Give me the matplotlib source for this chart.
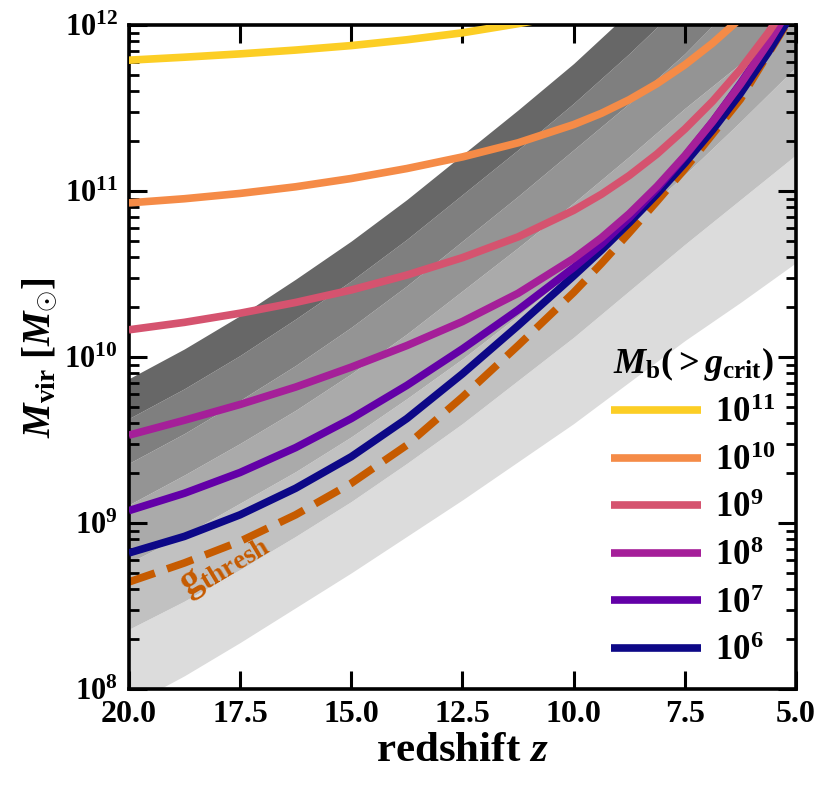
import numpy as np
import matplotlib
matplotlib.use('Agg')
import matplotlib.pyplot as plt
from matplotlib.ticker import NullLocator, FixedLocator

plt.rcParams['font.family'] = ['Liberation Serif', 'DejaVu Serif']
plt.rcParams['font.weight'] = 'bold'
plt.rcParams['mathtext.fontset'] = 'custom'
plt.rcParams['mathtext.rm'] = 'Liberation Serif:bold'
plt.rcParams['mathtext.it'] = 'Liberation Serif:italic:bold'
plt.rcParams['mathtext.bf'] = 'Liberation Serif:bold'

# redshift grid for the grey band edges
z_band = [20.0, 18.75, 17.5, 16.25, 15.0, 13.75, 12.5, 11.25, 10.0, 8.75, 7.5, 6.25, 5.0]

# log10 Mvir of the grey band edges (lowest to highest)
band_edges = [
    [7.90, 8.08, 8.28, 8.49, 8.70, 8.92, 9.14, 9.37, 9.60, 9.85, 10.10, 10.33, 10.57],
    [8.36, 8.53, 8.72, 8.92, 9.13, 9.36, 9.60, 9.86, 10.12, 10.40, 10.68, 10.95, 11.22],
    [8.76, 8.93, 9.12, 9.31, 9.52, 9.75, 9.99, 10.25, 10.52, 10.80, 11.10, 11.42, 11.75],
    [9.11, 9.29, 9.48, 9.68, 9.90, 10.14, 10.40, 10.66, 10.93, 11.21, 11.50, 11.77, 12.05],
    [9.36, 9.54, 9.74, 9.95, 10.18, 10.43, 10.70, 10.97, 11.25, 11.53, 11.83, 12.17, 12.55],
    [9.63, 9.81, 10.01, 10.23, 10.46, 10.71, 10.98, 11.25, 11.53, 11.83, 12.15, 12.49, 12.85],
    [9.87, 10.05, 10.25, 10.47, 10.70, 10.95, 11.22, 11.49, 11.77, 12.08, 12.40, 12.74, 13.10],
]
band_colors = ['#dcdcdc', '#c1c1c1', '#aaaaaa', '#949494', '#7f7f7f', '#676767']

# redshift grid for the curves (denser at low z where they bend)
z = [20.0, 18.75, 17.5, 16.25, 15.0, 13.75, 12.5, 11.25, 10.0,
     9.375, 8.75, 8.125, 7.5, 6.875, 6.25, 5.625, 5.0]

# log10 Mvir for each baryonic mass M_b(>g_crit)
mb_labels = [r'$10^{6}$', r'$10^{7}$', r'$10^{8}$', r'$10^{9}$', r'$10^{10}$', r'$10^{11}$']
logm_1e6 = [8.82, 8.92, 9.05, 9.21, 9.40, 9.63, 9.90, 10.19, 10.49,
            10.645, 10.81, 10.984, 11.17, 11.37, 11.59, 11.837, 12.11]
logm_1e7 = [9.075, 9.18, 9.305, 9.455, 9.63, 9.83, 10.05, 10.285, 10.54,
            10.681, 10.84, 11.016, 11.21, 11.42, 11.65, 11.898, 12.17]
logm_1e8 = [9.53, 9.62, 9.715, 9.82, 9.94, 10.07, 10.215, 10.385, 10.595,
            10.72, 10.865, 11.03, 11.215, 11.42, 11.645, 11.893, 12.165]
logm_1e9 = [10.165, 10.21, 10.265, 10.33, 10.405, 10.495, 10.60, 10.725, 10.885,
            10.982, 11.095, 11.225, 11.375, 11.543, 11.735, 11.956, 12.205]
logm_1e10 = [10.93, 10.955, 10.987, 11.027, 11.077, 11.137, 11.207, 11.292, 11.402,
             11.47, 11.552, 11.649, 11.762, 11.893, 12.042, 12.212, 12.402]
logm_1e11 = [11.79, 11.808, 11.828, 11.851, 11.878, 11.913, 11.955, 12.01, 12.07,
             12.108, 12.15, 12.203, 12.26, 12.328, 12.40, 12.488, 12.58]
mb_curves = [logm_1e6, logm_1e7, logm_1e8, logm_1e9, logm_1e10, logm_1e11]

# threshold curve
logm_thresh = [8.645, 8.76, 8.89, 9.05, 9.24, 9.47, 9.76, 10.07, 10.39,
               10.565, 10.75, 10.94, 11.135, 11.345, 11.555, 11.83, 12.10]

xticks = [20.0, 17.5, 15.0, 12.5, 10.0, 7.5, 5.0]

fig = plt.figure(figsize=(8.31, 7.92), dpi=100)
ax = fig.add_axes([0.155, 0.130, 0.803, 0.838])

zb = np.array(z_band)
for k in range(len(band_colors)):
    ax.fill_between(zb, 10**np.array(band_edges[k]), 10**np.array(band_edges[k + 1]),
                    color=band_colors[k], lw=0, zorder=1)

zz = np.array(z)
thresh_color = '#c65b00'
ax.plot(zz, 10**np.array(logm_thresh), color=thresh_color, lw=5.5, ls=(0, (3.6, 1.7)), zorder=2)

cols = plt.cm.plasma(np.linspace(0, 0.9, len(mb_curves)))
handles = []
for curve, col, lab in zip(mb_curves, cols, mb_labels):
    h, = ax.plot(zz, 10**np.array(curve), color=col, lw=5.5, label=lab, zorder=3,
                 solid_capstyle='butt', solid_joinstyle='round')
    handles.append(h)

ax.text(17.85, 10**8.75, r'$\mathrm{g}_{\mathrm{thresh}}$', color=thresh_color, fontsize=28,
        rotation=31, ha='center', va='center', zorder=4)

ax.set_yscale('log')
ax.set_xlim(20, 5)
ax.set_ylim(1e8, 1e12)
ax.xaxis.set_major_locator(FixedLocator(xticks))
ax.xaxis.set_minor_locator(NullLocator())
ax.set_xticklabels(['%.1f' % t for t in xticks])

ax.tick_params(which='both', direction='in', top=True, right=True)
ax.tick_params(axis='x', labelsize=23)
ax.tick_params(axis='y', labelsize=22)
ax.tick_params(which='major', length=13, width=2.2, pad=8)
ax.tick_params(which='minor', length=7, width=2.0)
for s in ax.spines.values():
    s.set_linewidth(2.6)

ax.set_xlabel(r'redshift $z$', fontsize=31, fontweight='bold', labelpad=2)
ax.set_ylabel(r'$M_{\rm vir}\ [M_{\odot}]$', fontsize=28, labelpad=4)

leg = ax.legend(handles[::-1], mb_labels[::-1], loc='lower right', frameon=False,
                fontsize=25, handlelength=2.6, handletextpad=0.4, labelspacing=0.42,
                title=r'$M_{\rm b}(>g_{\rm crit})$', title_fontsize=26,
                borderaxespad=0.2)

fig.savefig('out.png', dpi=100)
